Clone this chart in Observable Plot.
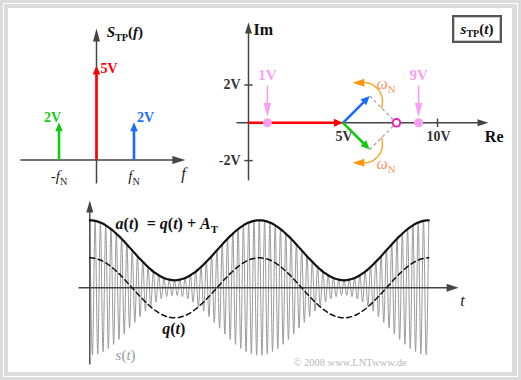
<!DOCTYPE html>
<html><head><meta charset="utf-8">
<script src="https://cdn.jsdelivr.net/npm/d3@7"></script>
<script src="https://cdn.jsdelivr.net/npm/@observablehq/plot@0.6"></script>
<style>
body{margin:0;background:#fff}
#page{position:relative;width:521px;height:380px;background:#dcdcdc;overflow:hidden;font-family:"Liberation Serif",serif}
.abs{position:absolute}
#box{left:452px;top:15px;width:50px;height:28px;box-sizing:border-box;border:2px solid #555;box-shadow:inset 0 0 0 1px #c8c8c8;background:#fff;font:bold 15px "Liberation Serif";display:flex;align-items:center;justify-content:center;color:#111}
#box .sub{font-size:10px;position:relative;top:4px}
</style></head><body>
<div id="page">
 <div class="abs" style="left:3px;top:3px;width:515px;height:374px;border:1px solid #fff;box-sizing:border-box"></div>
 <div class="abs" style="left:8px;top:8px;width:504px;height:364px;background:#fff"></div>
 <div class="abs" id="box"><i>s</i><span class="sub">TP</span>(<i>t</i>)</div>
</div>
<script>
// ---------------- data ----------------
// spectrum S_TP(f): frequencies in units of f_N, amplitudes in V
const specFreq = [-1, 0, 1];
const specAmp = [2, 5, 2];
const specLabel = ["2V", "5V", "2V"];
const specTickFreq = [-1, 1];
const specTickLabel = ["-*f*_{N}", "*f*_{N}"];
// phasor diagram
const carrierAmp = 5;          // V (red phasor)
const sidebandAmp = 2;         // V (blue / green phasors)
const sidebandAngle = 45;      // degrees at the snapshot
const envelopeMarks = [1, 9];  // V, min / max of a(t)
const envelopeLabels = ["1V", "9V"];
const reTicks = [5, 10];
const reTickLabels = ["5V", "10V"];
const imTicks = [2, -2];
const imTickLabels = ["2V", "-2V"];
// time signal: q(t) over one period of f_N, sampled every half carrier cycle (V)
const qPeriod = [4.00,3.98,3.92,3.83,3.70,3.53,3.33,3.09,2.83,2.54,2.22,1.89,1.53,1.16,0.78,0.39,
  0.00,-0.39,-0.78,-1.16,-1.53,-1.89,-2.22,-2.54,-2.83,-3.09,-3.33,-3.53,-3.70,-3.83,-3.92,-3.98,
  -4.00,-3.98,-3.92,-3.83,-3.70,-3.53,-3.33,-3.09,-2.83,-2.54,-2.22,-1.89,-1.53,-1.16,-0.78,-0.39,
  0.00,0.39,0.78,1.16,1.53,1.89,2.22,2.54,2.83,3.09,3.33,3.53,3.70,3.83,3.92,3.98];
const A_T = 5;          // V
const periods = 2;      // periods of q(t) shown

// ---------------- styles ----------------
const specColors = ["#11cc11", "#ff0000", "#1a6cff"];
const AX = "#444";
const PINK = "#fa9ff0";
const FONT = "Liberation Serif";

// ---------------- helpers ----------------
const page = document.getElementById("page");
function head(len, wid, ang) { // ang: screen direction, 0 = right, 90 = down
  const a = ang * Math.PI / 180, ux = Math.cos(a), uy = Math.sin(a), px = -uy, py = ux;
  return {draw(ctx) {
    ctx.moveTo(0, 0);
    ctx.lineTo(-len * ux + wid / 2 * px, -len * uy + wid / 2 * py);
    ctx.lineTo(-len * ux - wid / 2 * px, -len * uy - wid / 2 * py);
    ctx.closePath();
  }};
}
const xDom = (o, k, size) => [(0 - o) / k, (size - o) / k];
const yDom = (o, k, size) => [(o - size) / k, o / k];
function txt(data, o) {
  return Plot.text(data, {x: "x", y: "y", text: "s", fontFamily: FONT, fontWeight: "bold", fontSize: 14, ...o});
}
function richText(svg) {
  svg.querySelectorAll("text").forEach(t => {
    const s = t.textContent;
    if (!/[*]|_\{/.test(s)) return;
    const fs = parseFloat(getComputedStyle(t).fontSize) || 14;
    while (t.firstChild) t.removeChild(t.firstChild);
    let italic = false, sub = false, buf = "", shifted = false;
    const flush = () => {
      if (!buf) return;
      const ts = document.createElementNS("http://www.w3.org/2000/svg", "tspan");
      ts.textContent = buf;
      if (italic) ts.setAttribute("font-style", "italic");
      if (sub) {
        ts.setAttribute("font-size", (fs * 0.68).toFixed(1));
        ts.setAttribute("font-style", "normal");
        if (!shifted) { ts.setAttribute("dy", (fs * 0.28).toFixed(1)); shifted = true; }
      } else if (shifted) { ts.setAttribute("dy", (-fs * 0.28).toFixed(1)); shifted = false; }
      t.appendChild(ts); buf = "";
    };
    for (let i = 0; i < s.length; i++) {
      const c = s[i];
      if (c === "*") { flush(); italic = !italic; }
      else if (c === "_" && s[i + 1] === "{") { flush(); sub = true; i++; }
      else if (c === "}" && sub) { flush(); sub = false; }
      else buf += c;
    }
    flush();
  });
}
function place(opts, left, top, width, height) {
  const svg = Plot.plot({width, height, margin: 0, color: {type: "identity"},
    style: {background: "transparent", overflow: "visible"}, ...opts});
  svg.style.position = "absolute"; svg.style.left = left + "px"; svg.style.top = top + "px";
  page.appendChild(svg);
  richText(svg);
}

// ---------------- spectrum ----------------
{
  const kx = 37.5, ox = 96, ky = 18.9, oy = 159.5, W = 200, H = 190;
  const spec = specFreq.map((f, i) => ({f, amp: specAmp[i], s: specLabel[i], c: specColors[i]}));
  place({
    x: {domain: xDom(ox, kx, W), axis: null},
    y: {domain: yDom(oy, ky, H), axis: null},
    marks: [
      Plot.link([{x1: -2.03, y1: 0, x2: 2.3, y2: 0}, {x1: 0, y1: -1.24, x2: 0, y2: 6.6}],
        {x1: "x1", y1: "y1", x2: "x2", y2: "y2", stroke: AX, strokeWidth: 1.5}),
      Plot.dot([{x: 2.37, y: 0}], {x: "x", y: "y", symbol: head(13, 8, 0), fill: AX, stroke: "none"}),
      Plot.dot([{x: 0, y: 6.96}], {x: "x", y: "y", symbol: head(13, 7, -90), fill: AX, stroke: "none"}),
      Plot.ruleX(spec, {x: "f", y1: 0, y2: d => d.amp - 7 / ky, stroke: "c", strokeWidth: 2.6}),
      Plot.dot(spec, {x: "f", y: "amp", symbol: head(9, 7.5, -90), fill: "c", stroke: "none"}),
      txt(spec.filter(d => d.f === 0), {x: "f", y: "amp", fill: "c", textAnchor: "start", dx: 4, dy: 3}),
      txt(spec.filter(d => d.f < 0), {x: "f", y: "amp", fill: "c", textAnchor: "end", dx: 2, dy: -5}),
      txt(spec.filter(d => d.f > 0), {x: "f", y: "amp", fill: "c", textAnchor: "start", dx: 3, dy: -5}),
      txt(specTickFreq.map((f, i) => ({x: f, y: 0, s: specTickLabel[i]})), {fill: "#222", fontWeight: "normal", fontSize: 15, dy: 16}),
      txt([{x: 2.32, y: 0, s: "*f*"}], {fill: "#222", fontWeight: "normal", fontSize: 16, dy: 14}),
      txt([{x: 0.27, y: 6.75, s: "*S*_{TP}(*f*)"}], {fill: "#111", fontSize: 15, textAnchor: "start"})
    ]
  }, 0, 0, W, H);
}

// ---------------- phasor diagram ----------------
{
  const k = 18.9, ox = 48, oy = 122.3, W = 311, H = 190;
  const a = sidebandAngle * Math.PI / 180;
  const blue = [carrierAmp + sidebandAmp * Math.cos(a), sidebandAmp * Math.sin(a)];
  const green = [carrierAmp + sidebandAmp * Math.cos(a), -sidebandAmp * Math.sin(a)];
  const sum = carrierAmp + 2 * sidebandAmp * Math.cos(a);
  const back = 6 / k;
  const shorten = (p) => [p[0] - back * Math.cos(a), p[1] - Math.sign(p[1]) * back * Math.sin(a)];
  const bS = shorten(blue), gS = shorten(green);
  const arc = (cy, a0, a1) => d3.range(0, 1.0001, 1 / 24).map(u => {
    const th = (a0 + (a1 - a0) * u) * Math.PI / 180;
    return {x: 6.085 + 1.005 * Math.cos(th), y: cy + 1.005 * Math.sin(th)};
  });
  const ORANGE = "#ffa31a";
  place({
    x: {domain: xDom(ox, k, W), axis: null},
    y: {domain: yDom(oy, k, H), axis: null},
    marks: [
      Plot.link([{x1: -0.635, y1: 0, x2: 12.4, y2: 0}, {x1: 0, y1: -3.05, x2: 0, y2: 5.0}],
        {x1: "x1", y1: "y1", x2: "x2", y2: "y2", stroke: AX, strokeWidth: 1.5}),
      Plot.dot([{x: 12.7, y: 0}], {x: "x", y: "y", symbol: head(11, 7, 0), fill: AX, stroke: "none"}),
      Plot.dot([{x: 0, y: 5.31}], {x: "x", y: "y", symbol: head(11, 7, -90), fill: AX, stroke: "none"}),
      Plot.link(imTicks, {x1: -0.22, x2: 0.22, y1: d => d, y2: d => d, stroke: AX, strokeWidth: 1.5}),
      Plot.link([10], {x1: d => d, x2: d => d, y1: -0.22, y2: 0.22, stroke: AX, strokeWidth: 1.5}),
      txt(imTicks.map((v, i) => ({x: 0, y: v, s: imTickLabels[i]})), {fill: "#333", textAnchor: "end", dx: -8}),
      txt(reTicks.map((v, i) => ({x: v, y: 0, s: reTickLabels[i]})), {fill: "#333", dy: 14, dx: 1}),
      txt([{x: 13.0, y: 0, s: "Re"}], {fill: "#111", fontSize: 16, dy: 14}),
      txt([{x: 0.27, y: 4.93, s: "Im"}], {fill: "#111", fontSize: 16, textAnchor: "start"}),
      // dashed parallelogram
      Plot.link([{x1: blue[0], y1: blue[1]}, {x1: green[0], y1: green[1]}],
        {x1: "x1", y1: "y1", x2: sum, y2: 0, stroke: "#999", strokeWidth: 1.2, strokeDasharray: "3,3"}),
      // carrier phasor
      Plot.link([{x1: 0, y1: 0, x2: carrierAmp - 6 / k, y2: 0}], {x1: "x1", y1: "y1", x2: "x2", y2: "y2", stroke: "#ff0000", strokeWidth: 2.6}),
      Plot.dot([{x: carrierAmp, y: 0}], {x: "x", y: "y", symbol: head(9, 8, 0), fill: "#ff0000", stroke: "none"}),
      // sideband phasors
      Plot.link([{x2: bS[0], y2: bS[1], c: "#1a6cff"}, {x2: gS[0], y2: gS[1], c: "#11cc11"}],
        {x1: carrierAmp, y1: 0, x2: "x2", y2: "y2", stroke: "c", strokeWidth: 2.6}),
      Plot.dot([{x: blue[0], y: blue[1]}], {x: "x", y: "y", symbol: head(9, 8, -sidebandAngle), fill: "#1a6cff", stroke: "none"}),
      Plot.dot([{x: green[0], y: green[1]}], {x: "x", y: "y", symbol: head(9, 8, sidebandAngle), fill: "#11cc11", stroke: "none"}),
      // rotation arcs
      Plot.line(arc(1.127, -20, 85), {x: "x", y: "y", stroke: ORANGE, strokeWidth: 1.4, curve: "natural"}),
      Plot.line(arc(-1.127, 20, -85), {x: "x", y: "y", stroke: ORANGE, strokeWidth: 1.4, curve: "natural"}),
      Plot.dot([{x: 5.5, y: 2.116}, {x: 5.5, y: -2.116}], {x: "x", y: "y", symbol: head(12, 8, 180), fill: "#ff9a10", stroke: "none"}),
      txt([{x: 6.77, y: 2.08, s: "*ω*_{N}"}, {x: 6.77, y: -2.15, s: "*ω*_{N}"}], {fill: "#ff9060", fontWeight: "normal", fontSize: 16, textAnchor: "start"}),
      // envelope min / max markers
      Plot.link(envelopeMarks, {x1: d => d, x2: d => d, y1: 1.97, y2: 0.31 + 12 / k, stroke: PINK, strokeWidth: 1.6}),
      Plot.dot(envelopeMarks, {x: d => d, y: 0.31, symbol: head(14, 7.5, 90), fill: PINK, stroke: "none"}),
      Plot.dot(envelopeMarks, {x: d => d, y: 0, r: 4.5, fill: PINK, stroke: "none"}),
      txt(envelopeMarks.map((v, i) => ({x: v, y: 2.5, s: envelopeLabels[i]})), {fill: PINK, fontSize: 15}),
      Plot.dot([{x: sum, y: 0}], {x: "x", y: "y", r: 3.8, fill: "#fff", stroke: "#e81eb4", strokeWidth: 2})
    ]
  }, 200, 0, W, H);
}

// ---------------- time signal ----------------
{
  const kx = 169.5, ox = 29.3, ky = 7.5, oy = 97.3, W = 450, H = 182;
  const n = qPeriod.length;
  const samples = d3.range(0, periods * n + 1).map(i => {
    const q = qPeriod[i % n];
    return {t: i / n, q, a: A_T + q, s: (i % 2 ? -1 : 1) * (A_T + q)};
  });
  place({
    x: {domain: xDom(ox, kx, W), axis: null},
    y: {domain: yDom(oy, ky, H), axis: null},
    marks: [
      Plot.line(samples, {x: "t", y: "s", stroke: "#9a9a9a", strokeWidth: 1.0, curve: "monotone-x"}),
      Plot.link([{x1: -0.0667, y1: 0, x2: 2.12, y2: 0}, {x1: 0, y1: -10.24, x2: 0, y2: 11.0}],
        {x1: "x1", y1: "y1", x2: "x2", y2: "y2", stroke: AX, strokeWidth: 1.4}),
      Plot.dot([{x: 2.176, y: 0}], {x: "x", y: "y", symbol: head(12, 8, 0), fill: AX, stroke: "none"}),
      Plot.dot([{x: 0, y: 11.64}], {x: "x", y: "y", symbol: head(12, 7, -90), fill: AX, stroke: "none"}),
      Plot.line(samples, {x: "t", y: "q", stroke: "#111", strokeWidth: 1.5, strokeDasharray: "5,3.5", curve: "natural"}),
      Plot.line(samples, {x: "t", y: "a", stroke: "#111", strokeWidth: 2.2, curve: "natural"}),
      txt([{x: 0.152, y: 8.57, s: "*a*(*t*)\u00a0 = *q*(*t*) + *A*_{T}"}], {fill: "#111", fontSize: 16, textAnchor: "start"}),
      txt([{x: 0.495, y: -5.43, s: "*q*(*t*)"}], {fill: "#111", fontSize: 16}),
      txt([{x: 0.152, y: -9.03, s: "*s*(*t*)"}], {fill: "#999", fontWeight: "normal", fontSize: 15, textAnchor: "start"}),
      txt([{x: 2.199, y: -1.69, s: "*t*"}], {fill: "#222", fontWeight: "normal", fontSize: 16}),
      txt([{x: 1.535, y: -9.96, s: "© 2008 www.LNTwww.de"}], {fill: "#b8b8b8", fontWeight: "normal", fontSize: 10.5})
    ]
  }, 60, 190, W, H);
}
</script>
</body></html>
